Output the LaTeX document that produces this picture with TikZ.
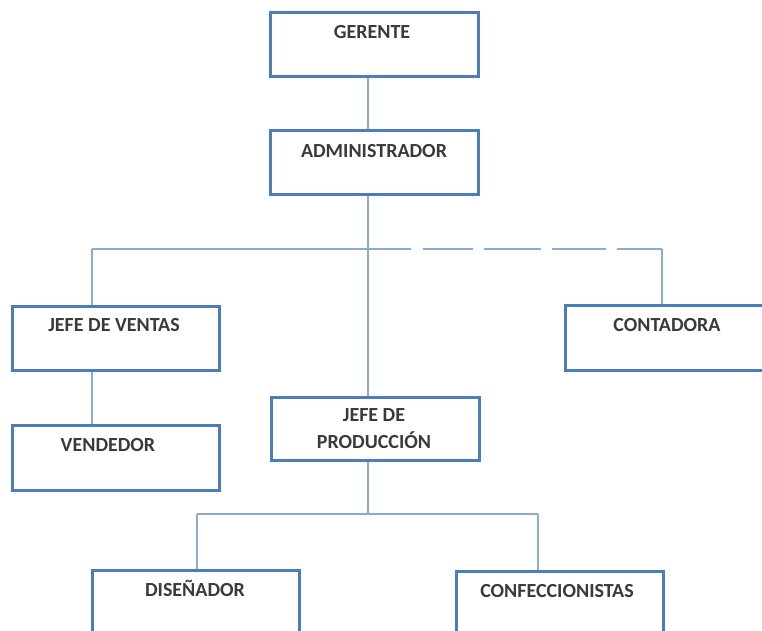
\documentclass[tikz,border=0pt]{standalone}
\usepackage{fontspec}
\setmainfont{Carlito}
\definecolor{boxblue}{HTML}{4A7EBB}
\definecolor{lineblue}{HTML}{8AAAD8}
\definecolor{txtgray}{HTML}{3A3A3A}
\begin{document}
\begin{tikzpicture}[x=1pt,y=-1pt,
  orgbox/.style={draw=boxblue,line width=3pt,fill=white,rectangle,minimum width=207pt,minimum height=64pt,inner sep=0pt},
  lbl/.style={anchor=base,font=\fontsize{20}{27}\selectfont\bfseries,text=txtgray,align=center,inner sep=0pt},
  conn/.style={draw=lineblue,line width=1.6pt}]
\useasboundingbox (0,0) rectangle (762,630);
\clip (0,0) rectangle (762,630);
% boxes
\node[orgbox,minimum width=208pt] (gerente) at (374,44) {};
\node[orgbox,minimum width=208pt] (admin) at (374,162) {};
\node[orgbox] (ventas) at (115.5,338) {};
\node[orgbox,minimum height=65pt] (vendedor) at (115.5,457.5) {};
\node[orgbox,minimum height=65pt] (contadora) at (668.5,337.5) {};
\node[orgbox,minimum width=208pt,minimum height=63pt] (prod) at (375,428.5) {};
\node[orgbox,minimum height=65pt] (disenador) at (195.5,602.5) {};
\node[orgbox,minimum height=65pt] (confec) at (559.5,603.5) {};
% junction coordinates
\coordinate (jm) at (368,249);
\coordinate (jl) at (92,249);
\coordinate (jr) at (662,249);
\coordinate (ds) at (411,249);
\coordinate (jp) at (368,514);
\coordinate (jd) at (197,514);
\coordinate (jc) at (538,514);
% connectors
\begin{scope}[on background layer/.style={}]
\draw[conn] (gerente.south -| jm) -- (admin.north -| jm);
\draw[conn] (jl) -- (ds);
\draw[conn,dash pattern=on 0pt off 12pt on 50pt off 11pt on 57pt off 11pt on 54pt off 11pt on 46pt off 0pt] (ds) -- (jr);
\draw[conn] (jr) -- (contadora.north -| jr);
\draw[conn] (jl) -- (ventas.north -| jl);
\draw[conn] (ventas.south -| jl) -- (vendedor.north -| jl);
\draw[conn] (admin.south -| jm) -- (jm) -- (prod.north -| jm);
\draw[conn] (prod.south -| jp) -- (jp);
\draw[conn] (jd) -- (jc);
\draw[conn] (jd) -- (disenador.north -| jd);
\draw[conn] (jc) -- (confec.north -| jc);
\end{scope}
% labels
\node[lbl] (tg) at (372,38) {GERENTE};
\node[lbl] (ta) at (374,157) {ADMINISTRADOR};
\node[lbl] (tv) at (114,331) {JEFE DE VENTAS};
\node[lbl] (tvd) at (108,451) {VENDEDOR};
\node[lbl] (tc) at (667,331) {CONTADORA};
\node[lbl,anchor=north] (tp) at (374,408) {JEFE DE\\PRODUCCIÓN};
\node[lbl] (td) at (195,596) {DISEÑADOR};
\node[lbl] (tcf) at (557,597) {CONFECCIONISTAS};
\end{tikzpicture}
\end{document}
